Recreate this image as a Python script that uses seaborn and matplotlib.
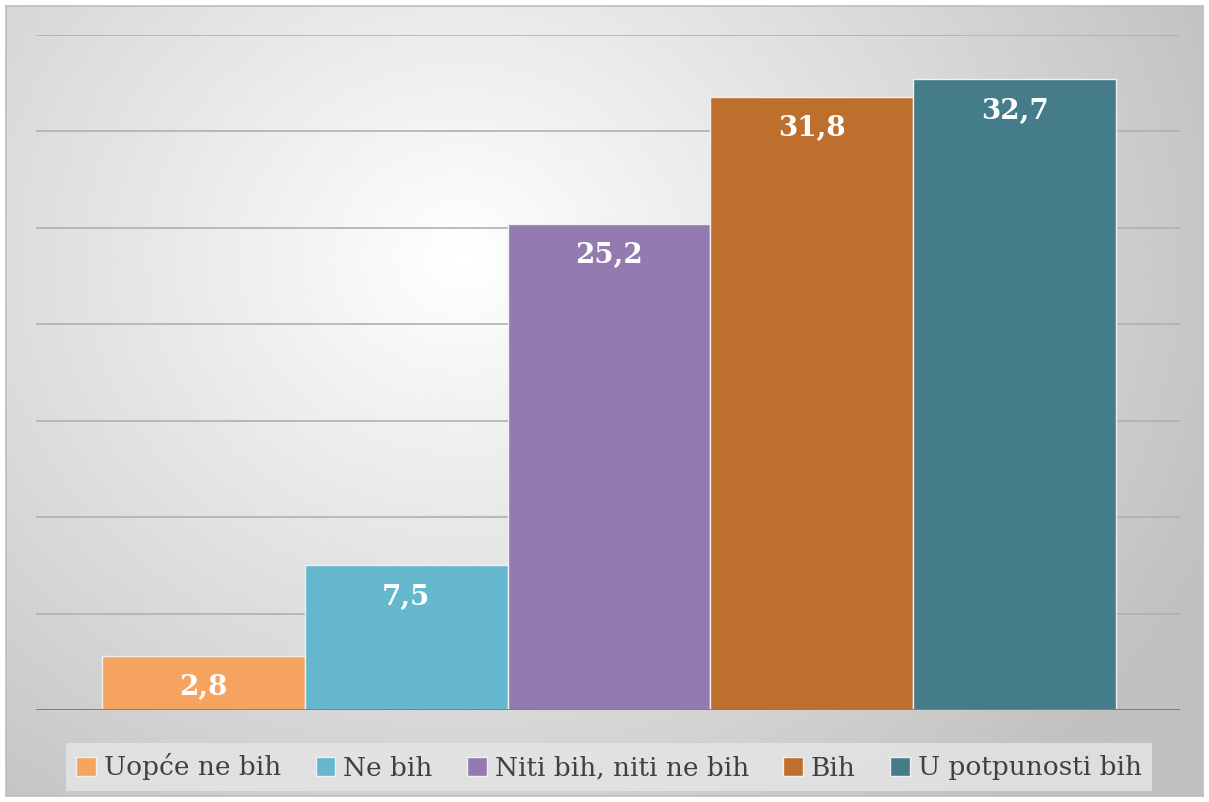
import matplotlib.pyplot as plt
import seaborn as sns
import numpy as np
import pandas as pd
from matplotlib.patches import Rectangle

# --- Data ---
categories = ['Uopće ne bih', 'Ne bih', 'Niti bih, niti ne bih', 'Bih', 'U potpunosti bih']
values = [2.8, 7.5, 25.2, 31.8, 32.7]
colors = ['#F5A35E', '#65B7CE', '#937AB0', '#BE6F2D', '#447C8A']
yticks = [0, 5, 10, 15, 20, 25, 30, 35]

df = pd.DataFrame({'odgovor': categories, 'postotak': values})

sns.set_style('white')
plt.rcParams['font.family'] = ['DejaVu Serif']

fig = plt.figure(figsize=(12.09, 8.02), dpi=100)

# --- Background: radial gradient inside a thin grey frame ---
bg = fig.add_axes([6 / 1209, 6 / 802, 1197 / 1209, 790 / 802])
gx, gy = np.meshgrid(np.linspace(0, 1, 400), np.linspace(0, 1, 300))
r = np.sqrt(((gx - 0.38) * 1.0) ** 2 + ((gy - 0.32) * 0.75) ** 2)
shade = np.clip(1.0 - 0.25 * r / 0.70, 0.75, 1.0)
bg.imshow(shade, cmap='gray', vmin=0, vmax=1, aspect='auto', extent=[0, 1, 1, 0])
bg.set_xticks([])
bg.set_yticks([])
for s in bg.spines.values():
    s.set_color('#bdbdbd')
    s.set_linewidth(1.2)

# --- Main bar chart ---
ax = fig.add_axes([36 / 1209, 1 - 710 / 802, (1180 - 36) / 1209, (710 - 35) / 802])
ax.patch.set_alpha(0)
for t in yticks[1:]:
    ax.axhline(t, color='#b0b0b0', linewidth=1.2, zorder=0)
ax.axhline(0, color='#7f7f7f', linewidth=1.4, zorder=3)

sns.barplot(data=df, x='odgovor', y='postotak', hue='odgovor', palette=colors,
            saturation=1, width=1.0, dodge=False, legend=False,
            edgecolor='#f0f0f0', linewidth=1.0, ax=ax, zorder=2)

ax.set_xlim(-0.5 - 0.325, 4.5 + 0.315)
ax.set_ylim(0, 35)
ax.set_xticks([])
ax.set_yticks([])
ax.set_xlabel('')
ax.set_ylabel('')
for s in ax.spines.values():
    s.set_visible(False)

for i, v in enumerate(values):
    ax.annotate(f'{v:.1f}'.replace('.', ','), xy=(i, v), xytext=(0, -23),
                textcoords='offset points', ha='center', va='center',
                color='white', fontsize=20, fontweight='bold', zorder=4)

# --- Legend ---
handles = [Rectangle((0, 0), 1, 1, facecolor=c, edgecolor='#f0f0f0', linewidth=1.0)
           for c in colors]
leg = fig.legend(handles, categories, loc='center', ncol=5,
                 bbox_to_anchor=(609 / 1209, 1 - 767 / 802), frameon=True,
                 fontsize=19, handlelength=0.75, handleheight=0.75,
                 handletextpad=0.3, columnspacing=1.3, borderpad=0.4,
                 fancybox=False)
leg.get_frame().set_facecolor('#e6e6e6')
leg.get_frame().set_edgecolor('none')
leg.get_frame().set_alpha(0.8)
for txt in leg.get_texts():
    txt.set_color('#404040')

fig.savefig('out.png', dpi=100)
